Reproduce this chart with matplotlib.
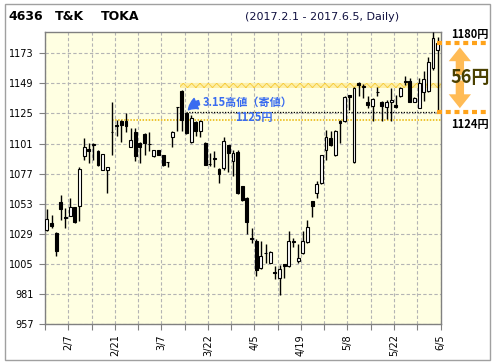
import numpy as np
import matplotlib
matplotlib.use("Agg")
import matplotlib.pyplot as plt
from matplotlib.patches import Rectangle

plt.rcParams['font.family'] = ['DejaVu Sans', 'Noto Sans CJK JP']
plt.rcParams['hatch.linewidth'] = 0.6

# trading day index 0 = 2017/2/1 ... 84 = 2017/6/5
opens = [1032, 1037.5, 1030, 1054, 1042, 1043, 1050, 1051, 1091, 1097,
         1101, 1095, 1080, 1080, 1110.5, 1115.5, 1119, 1119, 1098, 1110,
         1101.5, 1109, 1101, 1091, 1095.5, 1091.5, 1086.5, 1106, 1130.5, 1143,
         1125, 1102.5, 1118.5, 1111, 1101.5, 1085, 1089.5, 1081, 1081.5, 1099.5,
         1087, 1094, 1067, 1057.5, 1025.5, 1023.5, 1001.5, 1014, 1006, 998.5,
         993.5, 1004.5, 1003, 1023, 1007.5, 1013.5, 1022.5, 1055, 1061.5, 1069.5,
         1096, 1105.5, 1092, 1119, 1119, 1139.5, 1086, 1149.5, 1147, 1134,
         1131, 1142.5, 1134.5, 1130, 1134, 1131.5, 1139, 1151, 1151, 1134,
         1129.5, 1142, 1143, 1161.5, 1176]
highs = [1049, 1044, 1030.5, 1060, 1049.5, 1057.5, 1050.5, 1082.5, 1105.5, 1101.5,
         1101.5, 1095.5, 1093, 1082.5, 1134, 1120, 1119.5, 1125, 1113.5, 1113.5,
         1102, 1109.5, 1110, 1095.5, 1096, 1092, 1086.5, 1111, 1130.5, 1143.5,
         1125.5, 1124, 1119, 1120, 1102, 1093.5, 1095, 1081.5, 1106, 1100,
         1096, 1095.5, 1067.5, 1058, 1034, 1025, 1023, 1021, 1015, 1003,
         1004, 1005, 1031, 1026, 1021, 1031.5, 1040, 1055.5, 1071, 1091.5,
         1112, 1111, 1112, 1119.5, 1139, 1140, 1146, 1150, 1148.5, 1139,
         1137, 1146, 1135, 1136, 1145.5, 1140, 1146, 1155, 1153, 1138,
         1153, 1159, 1170, 1190, 1186]
lows = [1031, 1033.5, 1011, 1040, 1033.5, 1043, 1037.5, 1039, 1087.5, 1085.5,
        1088, 1083, 1079.5, 1061.5, 1092, 1107, 1102, 1110, 1098, 1087,
        1085.5, 1092, 1095, 1090.5, 1091.5, 1083, 1082, 1098, 1111, 1111,
        1108.5, 1101.5, 1107, 1106, 1083.5, 1083, 1082, 1069.5, 1080, 1078.5,
        1075, 1061, 1055.5, 1029, 1022, 995, 1001, 1006, 1005.5, 993,
        980, 993.5, 1002.5, 1018.5, 1006, 1013, 1022, 1042.5, 1057.5, 1069,
        1088, 1099, 1091, 1101.5, 1118.5, 1128, 1085.5, 1139, 1137.5, 1129.5,
        1119, 1139, 1119, 1120.5, 1119, 1129.5, 1138.5, 1148, 1134, 1134,
        1129, 1135, 1142.5, 1160, 1125]
closes = [1041, 1035, 1015, 1049, 1041.5, 1050, 1038, 1081, 1098, 1095,
          1100, 1083.5, 1093, 1082, 1110, 1115, 1115.5, 1115, 1103.5, 1091,
          1098.5, 1101.5, 1100.5, 1095.5, 1092, 1083.5, 1086, 1110.5, 1130, 1119.5,
          1109.5, 1121.5, 1111, 1119, 1083.5, 1084.5, 1089, 1076.5, 1103, 1093.5,
          1093.5, 1061.5, 1056, 1038, 1025, 1000, 1011.5, 1013.5, 1014.5, 998,
          1000.5, 1003, 1023.5, 1022.5, 1010, 1023.5, 1034.5, 1051, 1069, 1091.5,
          1106, 1099.5, 1111, 1117, 1138.5, 1138, 1145.5, 1148, 1146.5, 1132,
          1136.5, 1142, 1131, 1134, 1135.5, 1130, 1145.5, 1150.5, 1134, 1137.5,
          1149.5, 1152.5, 1166, 1185.5, 1181]

date_labels = ["2/7", "2/21", "3/7", "3/22", "4/5", "4/19", "5/8", "5/22", "6/5"]
date_label_idx = [4, 14, 24, 34, 44, 54, 64, 74, 84]
yticks = [957, 981, 1005, 1029, 1053, 1077, 1101, 1125, 1149, 1173]

high_315 = 1125        # 3/15 open = high
support_line = 1120    # yellow dotted line from 2/21
resist_band = (1145, 1149)
range_hi, range_lo = 1181, 1126
range_hi_label, range_lo_label = "1180円", "1124円"

blue = "#3a6cf0"
orange = "#ffa31a"
cjk = ["Noto Sans CJK JP", "DejaVu Sans"]

fig = plt.figure(figsize=(4.96, 3.64), dpi=100, facecolor="white")
ax = fig.add_axes([45/496, 40/364, 395.5/496, 292/364])
ax.set_facecolor("#ffffe2")

n = len(opens)
x = np.arange(n)
o = np.array(opens); h = np.array(highs); l = np.array(lows); c = np.array(closes)
up = c >= o

ax.vlines(x, l, h, color="black", lw=1, zorder=3)
ax.bar(x, np.abs(c - o), bottom=np.minimum(o, c), width=0.62,
       color=np.where(up, "white", "black"), edgecolor="black", lw=0.8, zorder=4)

# level lines
ax.plot([14, n], [support_line]*2, color="#e8b400", lw=1.1, ls=(0, (1, 1)), zorder=2)
ax.plot([30, n], [high_315 + 0.8]*2, color="black", lw=0.9, ls=(0, (1, 1.2)), zorder=2)
ax.add_patch(Rectangle((28.6, resist_band[0]), n - 28.6, resist_band[1] - resist_band[0],
                       facecolor="#fdefa8", edgecolor="#f6cc3c", hatch="xxxx",
                       lw=0, zorder=2))

# annotation for 3/15
ax.text(33.5, 1133.5, "3.15高値（寄値）", color=blue, fontsize=8, fontweight="bold",
        family=cjk, va="center", ha="left", zorder=6)
ax.text(44.5, 1121.5, "1125円", color=blue, fontsize=8, fontweight="bold",
        family=cjk, va="center", ha="center", zorder=6)
ax.annotate("", xy=(30.1, high_315 + 1), xytext=(33.3, 1134),
            arrowprops=dict(arrowstyle="simple,head_width=0.9,head_length=0.8,tail_width=0.35",
                            connectionstyle="arc3,rad=0.25", color=blue, mutation_scale=9),
            zorder=6)

ax.set_xlim(-0.4, n - 0.4)
ax.set_ylim(957, 1190)
ax.set_yticks(yticks)
ax.set_yticklabels([str(v) for v in yticks])
ticks = np.arange(-0.4, n, 5)
ax.set_xticks(ticks)
lab = {i + 0.6: s for i, s in zip(date_label_idx, date_labels)}
ax.set_xticklabels([lab.get(round(t, 1), "") for t in ticks], rotation=90)
ax.tick_params(axis="both", length=4.5, width=0.8, color="#808080", labelsize=7, pad=3)
ax.tick_params(axis="y", pad=3.5)
ax.grid(True, color="#b4b4b4", ls=(0, (3, 2)), lw=0.8)
ax.set_axisbelow(True)
for sp in ax.spines.values():
    sp.set_color("#808080")
    sp.set_linewidth(1)

# range marker on the right side
tr = ax.get_yaxis_transform()
for v in (range_hi, range_lo):
    ax.plot([0.99, 1.12], [v, v], transform=tr, color=orange, lw=3,
            ls=(0, (1.2, 0.9)), clip_on=False, zorder=5, solid_capstyle="butt")
mid = (range_hi + range_lo) / 2
for end in (range_hi - 1, range_lo + 1):
    ax.annotate("", xy=(1.049, end), xytext=(1.049, mid), xycoords=tr, textcoords=tr,
                arrowprops=dict(arrowstyle="simple,head_width=1.6,head_length=1.0,tail_width=0.6",
                                color="#ffbb55", lw=0, mutation_scale=10), zorder=5)
ax.text(1.075, mid, "56円", transform=tr, fontsize=13, color="#4a4000", fontweight="bold",
        family=cjk, ha="center", va="center", zorder=6)
ax.annotate(range_hi_label, xy=(1.075, range_hi), xycoords=tr, xytext=(0, 6),
            textcoords="offset points", fontsize=8, fontweight="bold", ha="center", va="center",
            family=cjk)
ax.annotate(range_lo_label, xy=(1.075, range_lo), xycoords=tr, xytext=(0, -8.5),
            textcoords="offset points", fontsize=8, fontweight="bold", ha="center", va="center",
            family=cjk)

# titles and outer frame
fig.text(8/496, 1 - 16/364, "4636", fontsize=9, fontweight="bold", va="center")
fig.text(55/496, 1 - 16/364, "T&K", fontsize=9, fontweight="bold", va="center")
fig.text(101/496, 1 - 16/364, "TOKA", fontsize=9, fontweight="bold", va="center")
fig.text(245/496, 1 - 17/364, "(2017.2.1 - 2017.6.5, Daily)", fontsize=8, va="center",
         color="#101040")
fig.patches.append(Rectangle((5/496, 4/364), 485/496, 356/364, transform=fig.transFigure,
                             fill=False, ec="#a0a0a0", lw=1))

fig.savefig("out.png", dpi=100)
